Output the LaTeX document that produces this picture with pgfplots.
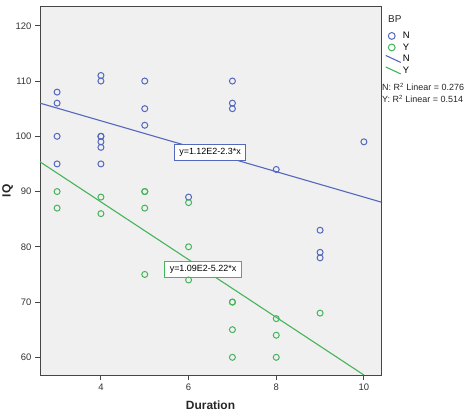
\documentclass[border=0pt]{standalone}
\usepackage{fontspec}
\setmainfont{Liberation Sans}
\usepackage{pgfplots}
\pgfplotsset{compat=1.18}

\definecolor{bpN}{RGB}{84,104,190}
\definecolor{bpY}{RGB}{70,180,90}
\definecolor{axisgray}{RGB}{70,70,70}
\definecolor{plotbg}{RGB}{240,240,240}

\pgfplotsset{
  circ legend/.style={legend image code/.code={\path (0bp,0bp) (15bp,0bp);
    \draw[##1, mark size=3.4bp] plot coordinates {(6bp,0bp)};}},
  slant legend/.style={legend image code/.code={\draw[##1] (0bp,3.5bp) -- (15bp,-3.5bp);}},
}

\begin{document}
\begin{tikzpicture}
\path[use as bounding box] (0bp,0bp) rectangle (468bp,412bp);
\begin{axis}[
  at={(40bp,37bp)}, anchor=south west,
  scale only axis, width=341bp, height=368bp,
  xmin=2.61, xmax=10.39, ymin=56.8, ymax=123.4,
  xtick={4,6,8,10}, ytick={60,70,...,120},
  tick pos=left, tick align=outside, major tick length=5bp,
  every tick/.style={axisgray, line width=0.9bp},
  axis line style={axisgray, line width=1bp},
  axis background/.style={fill=plotbg},
  tick label style={font=\fontsize{9.5}{10}\selectfont, text=black!80},
  /pgf/number format/assume math mode=true,
  xlabel={Duration}, ylabel={IQ},
  label style={font=\bfseries\fontsize{12}{14}\selectfont, text=black!85},
  xlabel style={at={(axis description cs:0.5,-0.0815)}, anchor=center},
  ylabel style={at={(axis description cs:-0.095,0.5)}, anchor=center},
  clip=false,
  legend style={at={(axis description cs:1,1)}, anchor=north west,
    draw=none, fill=none, xshift=4bp, yshift=-23bp, inner sep=0pt,
    font=\fontsize{9.5}{10}\selectfont,
    nodes={inner sep=1.5bp, text height=7bp, text depth=1.5bp}},
  legend cell align=left,
]
% BP = N
\addplot[only marks, mark=o, mark size=3bp, color=bpN,
  mark options={line width=1bp}, circ legend]
coordinates {
 (3,108) (3,106) (3,100) (3,95)
 (4,111) (4,110) (4,100) (4,100) (4,99) (4,98) (4,95)
 (5,110) (5,105) (5,102)
 (6,89)
 (7,110) (7,106) (7,105)
 (8,94)
 (9,83) (9,79) (9,78)
 (10,99)
};
\addlegendentry{N}
% BP = Y
\addplot[only marks, mark=o, mark size=3bp, color=bpY,
  mark options={line width=1bp}, circ legend]
coordinates {
 (3,90) (3,87)
 (4,89) (4,86)
 (5,90) (5,90) (5,87) (5,75)
 (6,88) (6,80) (6,74)
 (7,70) (7,70) (7,65) (7,60)
 (8,67) (8,64) (8,60)
 (9,68)
};
\addlegendentry{Y}
% fitted lines: y = 112 - 2.3x and y = 109 - 5.22x
\addplot[bpN, line width=1.1bp, slant legend]
coordinates {(2.61,106.0) (10.39,88.1)};
\addlegendentry{N}
\addplot[bpY, line width=1.1bp, slant legend]
coordinates {(2.61,95.38) (10.0,56.8)};
\addlegendentry{Y}

\node[draw=bpN, fill=white, line width=0.9bp, font=\fontsize{9}{10}\selectfont,
  inner xsep=5bp, inner ysep=4bp] at (axis cs:6.49,97.07) {y=1.12E2-2.3*x};
\node[draw=bpY, fill=white, line width=0.9bp, font=\fontsize{9}{10}\selectfont,
  inner xsep=5bp, inner ysep=4bp] at (axis cs:6.33,75.9) {y=1.09E2-5.22*x};

\node[anchor=west, inner sep=0pt, font=\fontsize{10}{12}\selectfont, text=black!85]
  at ([xshift=7bp, yshift=-12bp]axis description cs:1,1) {BP};
\node[anchor=west, inner sep=0pt, font=\fontsize{9}{10}\selectfont, text=black!85]
  at ([xshift=1bp, yshift=-80bp]axis description cs:1,1) {N: R\textsuperscript{2} Linear = 0.276};
\node[anchor=west, inner sep=0pt, font=\fontsize{9}{10}\selectfont, text=black!85]
  at ([xshift=1bp, yshift=-92bp]axis description cs:1,1) {Y: R\textsuperscript{2} Linear = 0.514};
\end{axis}
\end{tikzpicture}
\end{document}
